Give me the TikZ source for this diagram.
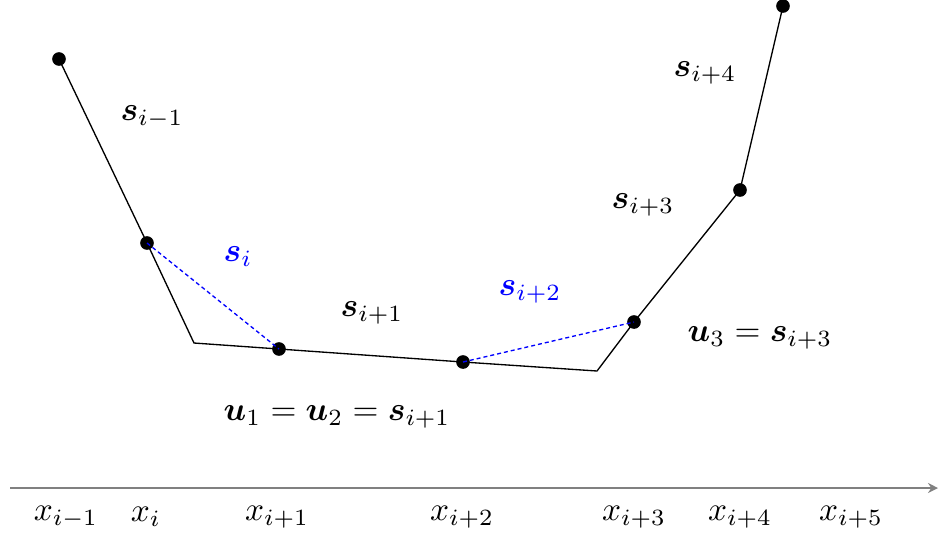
\documentclass[tikz,border=0pt]{standalone}
\usepackage{amsmath,bm}
\usetikzlibrary{arrows.meta}
\begin{document}
\begin{tikzpicture}[x=0.3pt,y=-0.3pt,
  pt/.style={circle,fill=black,inner sep=0pt,minimum size=4.1pt},
  crn/.style={inner sep=0pt,minimum size=0pt},
  curve/.style={black,line width=0.4pt},
  chord/.style={blue,line width=0.4pt,dash pattern=on 1.2pt off 0.9pt},
  lbl/.style={inner sep=0pt},
  axis/.style={gray,line width=0.45pt,-{Stealth[length=3pt,width=3pt]}}]
\useasboundingbox (0,0) rectangle (947,557);
% points
\node[pt] (p1) at (59,59) {};
\node[pt] (p2) at (147,243) {};
\node[crn] (a) at (194,343) {};
\node[pt] (p3) at (279,349) {};
\node[pt] (p4) at (463,362) {};
\node[crn] (b) at (597,371) {};
\node[pt] (p5) at (634,322) {};
\node[pt] (p6) at (740,190) {};
\node[pt] (p7) at (783,6) {};
% polyline
\draw[curve] (p1.center) -- (p2.center) -- (a.center) -- (p3.center) -- (p4.center) -- (b.center) -- (p5.center) -- (p6.center) -- (p7.center);
% chords
\draw[chord] (p2.center) -- (p3.center);
\draw[chord] (p4.center) -- (p5.center);
% labels
\node[lbl] (l1) at (152,117) {$\bm{s}_{i-1}$};
\node[lbl,text=blue] (l2) at (238,257) {$\bm{s}_{i}$};
\node[lbl] (l3) at (372,313) {$\bm{s}_{i+1}$};
\node[lbl,text=blue] (l4) at (530,292) {$\bm{s}_{i+2}$};
\node[lbl] (l5) at (643,205) {$\bm{s}_{i+3}$};
\node[lbl] (l6) at (705,73) {$\bm{s}_{i+4}$};
\node[lbl] (l7) at (760,338) {$\bm{u}_3=\bm{s}_{i+3}$};
\node[lbl] (l8) at (337,417) {$\bm{u}_1=\bm{u}_2=\bm{s}_{i+1}$};
% axis
\coordinate (ax0) at (10,488);
\coordinate (ax1) at (938,488);
\draw[axis] (ax0) -- (ax1);
\node[lbl] (x0) at (66,517) {$x_{i-1}$};
\node[lbl] (x1) at (146,517) {$x_{i}$};
\node[lbl] (x2) at (277,517) {$x_{i+1}$};
\node[lbl] (x3) at (462,517) {$x_{i+2}$};
\node[lbl] (x4) at (634,517) {$x_{i+3}$};
\node[lbl] (x5) at (740,517) {$x_{i+4}$};
\node[lbl] (x6) at (851,517) {$x_{i+5}$};
\end{tikzpicture}
\end{document}
